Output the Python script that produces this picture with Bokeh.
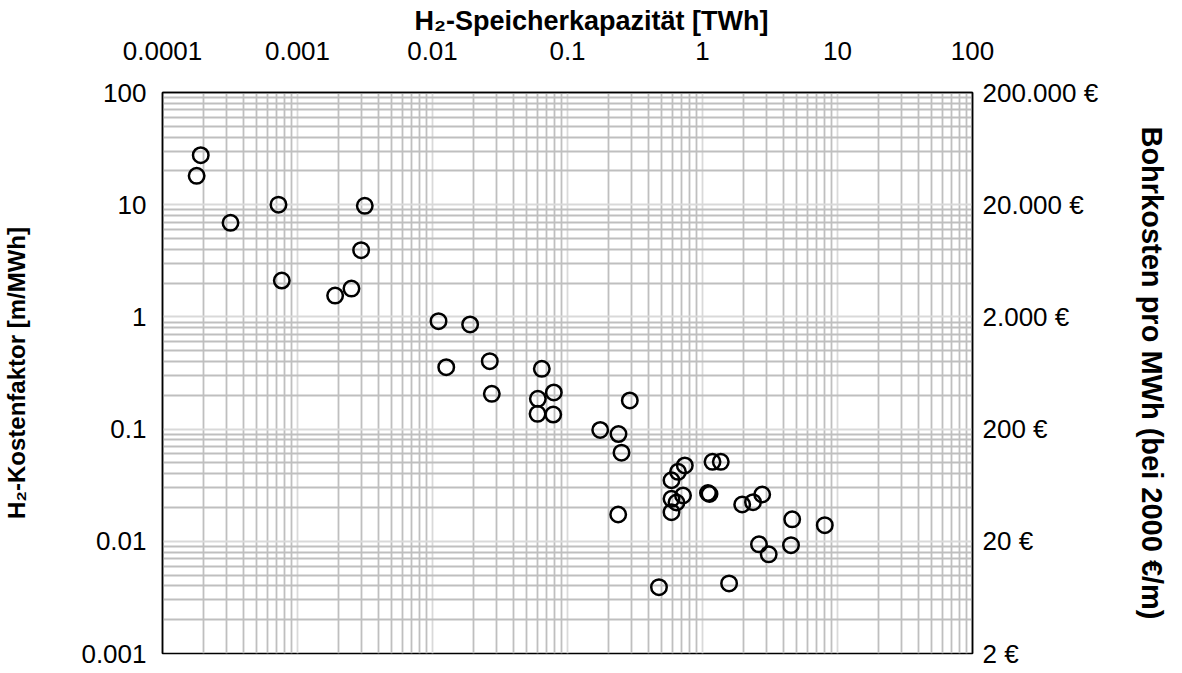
from bokeh.plotting import figure
from bokeh.models import FixedTicker, LogAxis, Range1d, LogScale, Title
from bokeh.embed import file_html
from bokeh.resources import INLINE

# ---- data ----
speicher_twh = [
    1.92e-4, 1.79e-4, 3.19e-4, 7.23e-4, 7.65e-4, 3.15e-3, 2.96e-3, 2.51e-3, 1.90e-3,
    0.01108, 0.0190, 0.01264, 0.02657, 0.0275, 0.0645, 0.0792, 0.0603, 0.0600, 0.0784,
    0.2894, 0.1747, 0.2386, 0.2512, 0.2374, 0.476,
    0.7395, 0.6584, 0.5893, 0.7171, 0.5893, 0.6418, 0.5893,
    1.186, 1.366, 1.098, 1.127, 1.968, 2.367, 2.768, 4.617, 8.05, 2.62, 3.093, 4.524, 1.574,
]
kostenfaktor = [
    27.6, 18.1, 6.90, 10.0, 2.11, 9.78, 3.93, 1.79, 1.55,
    0.916, 0.856, 0.356, 0.403, 0.2064, 0.3446, 0.212, 0.1863, 0.1369, 0.1349,
    0.1799, 0.0982, 0.0904, 0.0616, 0.01733, 0.0039,
    0.0474, 0.0416, 0.0350, 0.0256, 0.0239, 0.02217, 0.01817,
    0.0511, 0.0511, 0.02695, 0.0264, 0.02128, 0.02231, 0.02613, 0.01571, 0.01391, 0.0094, 0.00766, 0.00923, 0.00421,
]

x_ticks = [0.0001, 0.001, 0.01, 0.1, 1, 10, 100]
x_tick_labels = ["0.0001", "0.001", "0.01", "0.1", "1", "10", "100"]
y_ticks = [0.001, 0.01, 0.1, 1, 10, 100]
y_tick_labels = ["0.001", "0.01", "0.1", "1", "10", "100"]
bohr_ticks = [2, 20, 200, 2000, 20000, 200000]
bohr_tick_labels = ["2 €", "20 €", "200 €", "2.000 €", "20.000 €", "200.000 €"]

x_title = "H₂-Speicherkapazität [TWh]"
y_title = "H₂-Kostenfaktor [m/MWh]"
y2_title = "Bohrkosten pro MWh (bei 2000 €/m)"

FONT = "Liberation Sans"
TICK_SIZE = "26px"


def minor(lo_exp, hi_exp):
    return [m * 10.0 ** e for e in range(lo_exp, hi_exp) for m in range(2, 10)]


p = figure(
    x_axis_type="log", y_axis_type="log", x_axis_location="above",
    x_range=(0.0001, 100), y_range=(0.001, 100),
    frame_width=810, frame_height=561,
    min_border_left=153, min_border_right=190, min_border_top=86, min_border_bottom=16,
    output_backend="svg", toolbar_location=None,
    background_fill_color="white", border_fill_color="white",
)
p.outline_line_color = "black"
p.outline_line_width = 1.5

# grids
for g in (p.xgrid, p.ygrid):
    g.grid_line_color = "#d9d9d9"
    g.grid_line_width = 1.8
    g.minor_grid_line_color = "#bfbfbf"
    g.minor_grid_line_width = 1.8

# top x axis
xa = p.xaxis[0]
xa.ticker = FixedTicker(ticks=x_ticks, minor_ticks=minor(-4, 2))
xa.major_label_overrides = dict(zip(x_ticks, x_tick_labels))
xa.major_label_standoff = 33

# top title, shifted right like in the reference
top_title = Title(text=x_title, align="left", offset=252, standoff=6,
                  text_font=FONT, text_font_size="27px", text_font_style="bold",
                  text_color="black")
p.add_layout(top_title, "above")

# left y axis
ya = p.yaxis[0]
ya.ticker = FixedTicker(ticks=y_ticks, minor_ticks=minor(-3, 2))
ya.major_label_overrides = dict(zip(y_ticks, y_tick_labels))
ya.axis_label = y_title
ya.major_label_standoff = 16
ya.axis_label_standoff = 48
ya.axis_label_text_font_size = "24px"

# right y axis (drilling costs)
p.extra_y_ranges = {"bohr": Range1d(2, 200000)}
p.extra_y_scales = {"bohr": LogScale()}
ra = LogAxis(y_range_name="bohr", ticker=FixedTicker(ticks=bohr_ticks),
             major_label_overrides=dict(zip(bohr_ticks, bohr_tick_labels)))
ra.axis_label = y2_title
ra.major_label_standoff = 10
ra.axis_label_standoff = 35
ra.axis_label_text_font_size = "29px"
p.add_layout(ra, "right")

for ax in (xa, ya, ra):
    ax.axis_line_color = "black"
    ax.axis_line_width = 1.5
    ax.major_tick_line_color = None
    ax.minor_tick_line_color = None
    ax.major_tick_out = 0
    ax.major_tick_in = 0
    ax.minor_tick_out = 0
    ax.minor_tick_in = 0
    ax.major_label_text_font = FONT
    ax.major_label_text_font_size = TICK_SIZE
    ax.major_label_text_color = "black"
    ax.axis_label_text_font = FONT
    ax.axis_label_text_font_style = "bold"
    ax.axis_label_text_color = "black"

p.scatter(speicher_twh, kostenfaktor, marker="circle", size=15.5,
          fill_color=None, line_color="black", line_width=2.5)

open("out.html", "w").write(file_html(p, INLINE))
